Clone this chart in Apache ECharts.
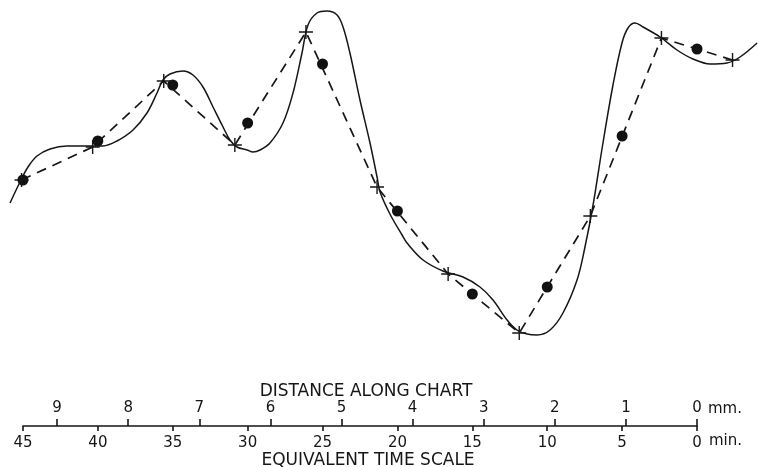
<!DOCTYPE html>
<html>
<head>
<meta charset="utf-8">
<script src="https://cdn.jsdelivr.net/npm/echarts@6/dist/echarts.min.js"></script>
<style>
html,body{margin:0;padding:0;background:#ffffff;}
#chart{width:758px;height:467px;}
</style>
</head>
<body>
<div id="chart"></div>
<script>
// ---- DATA ----
// Smooth recorded curve: [time (min), height (arbitrary units)]
var curveTime = [45.86,45.13,44.66,44.06,43.19,42.06,41.19,40.19,39.66,38.72,37.65,36.72,36.05,35.65,35.18,34.31,33.65,32.98,32.31,31.64,31.18,30.71,30.04,29.64,29.17,28.51,27.64,26.97,26.37,25.97,25.37,24.70,24.03,23.63,23.17,22.50,21.83,21.36,21.16,20.50,19.69,19.36,18.29,16.96,15.62,14.49,13.62,12.68,12.02,11.35,10.68,9.81,8.95,8.01,7.48,6.94,6.28,5.61,5.01,4.61,4.14,3.61,2.47,1.34,0.27,-0.87,-2.00,-2.87,-4.01];
var curveValue = [197,220,233,244,251,254,254,254,254,259,270,287,307,320,326,329,325,313,293,273,260,253,250,248,250,257,277,307,347,375,387,389,385,373,347,300,257,223,208,186,165,157,140,129,123,113,100,80,70,66,65,70,87,120,153,195,257,315,357,372,377,373,363,350,341,336,337,343,357];
// Readings at each millimetre of chart ("+" marks, dashed line)
var crossMm = [9.5,8.5,7.5,6.5,5.5,4.5,3.5,2.5,1.5,0.5,-0.5];
var crossValue = [220,253,319,255,368,213,126,67,184,362,340];
// Readings every 5 minutes (filled dots)
var dotTime = [45,40,35,30,25,20,15,10,5,0];
var dotValue = [220,259,315,277,336,189,106,113,264,351];
// Scale tick labels
var mmTicks = [0,1,2,3,4,5,6,7,8,9];
var timeTicks = [0,5,10,15,20,25,30,35,40,45];

// ---- CHART ----
var ink = '#161616';
var font = '"DejaVu Sans", sans-serif';
function pairs(xs, ys){ return xs.map(function(x,i){ return [x, ys[i]]; }); }
var plusPath = 'path://M9,0 H11 V9 H20 V11 H11 V20 H9 V11 H0 V9 H9 Z';

var chart = echarts.init(document.getElementById('chart'), null, {renderer:'canvas'});
chart.setOption({
  animation: false,
  backgroundColor: '#ffffff',
  grid: [
    {left: 0, right: 0, top: 0, height: 400},
    {left: 23, right: 61, top: 425, height: 1}
  ],
  xAxis: [
    {gridIndex: 0, type: 'value', min: -4.07, max: 46.53, inverse: true, show: false},
    {gridIndex: 0, type: 'value', min: -0.858, max: 9.803, inverse: true, show: false},
    {gridIndex: 1, type: 'value', min: 0, max: 45, interval: 5, inverse: true, position: 'bottom',
     axisLine: {show: true, onZero: false, lineStyle: {color: ink, width: 1.6}},
     axisTick: {show: true, inside: false, length: 5, lineStyle: {color: ink, width: 1.6}, customValues: timeTicks},
     axisLabel: {show: true, margin: 10, color: ink, fontFamily: font, fontSize: 15, customValues: timeTicks,
                 showMinLabel: true, showMaxLabel: true},
     splitLine: {show: false}},
    {gridIndex: 1, type: 'value', min: 0, max: 9.48, inverse: true, position: 'bottom',
     axisLine: {show: false, onZero: false},
     axisTick: {show: true, inside: true, length: 7, lineStyle: {color: ink, width: 1.6}, customValues: mmTicks},
     axisLabel: {show: true, inside: true, margin: 10, color: ink, fontFamily: font, fontSize: 15, customValues: mmTicks},
     splitLine: {show: false}}
  ],
  yAxis: [
    {gridIndex: 0, type: 'value', min: 0, max: 400, show: false},
    {gridIndex: 1, type: 'value', min: 0, max: 1, show: false}
  ],
  series: [
    {type: 'line', name: 'curve', xAxisIndex: 0, yAxisIndex: 0,
     data: pairs(curveTime, curveValue), smooth: 0.35, showSymbol: false, silent: true,
     lineStyle: {color: ink, width: 1.5}},
    {type: 'line', name: 'chart readings', xAxisIndex: 1, yAxisIndex: 0,
     data: pairs(crossMm, crossValue), smooth: false, showSymbol: true, showAllSymbol: true,
     symbol: plusPath, symbolSize: 14, itemStyle: {color: ink, borderWidth: 0, opacity: 1},
     lineStyle: {color: ink, width: 1.7, type: [10, 7]}},
    {type: 'scatter', name: 'time readings', xAxisIndex: 0, yAxisIndex: 0,
     data: pairs(dotTime, dotValue), symbol: 'circle', symbolSize: 11,
     itemStyle: {color: '#111111', opacity: 1}}
  ],
  graphic: [
    {type: 'text', x: 366, y: 392, style: {text: 'DISTANCE ALONG CHART', font: '17px ' + font, fill: ink,
      align: 'center', verticalAlign: 'middle', textAlign: 'center', textVerticalAlign: 'middle'}},
    {type: 'text', x: 368, y: 461, style: {text: 'EQUIVALENT TIME SCALE', font: '17px ' + font, fill: ink,
      align: 'center', verticalAlign: 'middle', textAlign: 'center', textVerticalAlign: 'middle'}},
    {type: 'text', x: 708, y: 409, style: {text: 'mm.', font: '15px ' + font, fill: ink,
      align: 'left', verticalAlign: 'middle', textAlign: 'left', textVerticalAlign: 'middle'}},
    {type: 'text', x: 709, y: 441, style: {text: 'min.', font: '15px ' + font, fill: ink,
      align: 'left', verticalAlign: 'middle', textAlign: 'left', textVerticalAlign: 'middle'}}
  ]
});
</script>
</body>
</html>
